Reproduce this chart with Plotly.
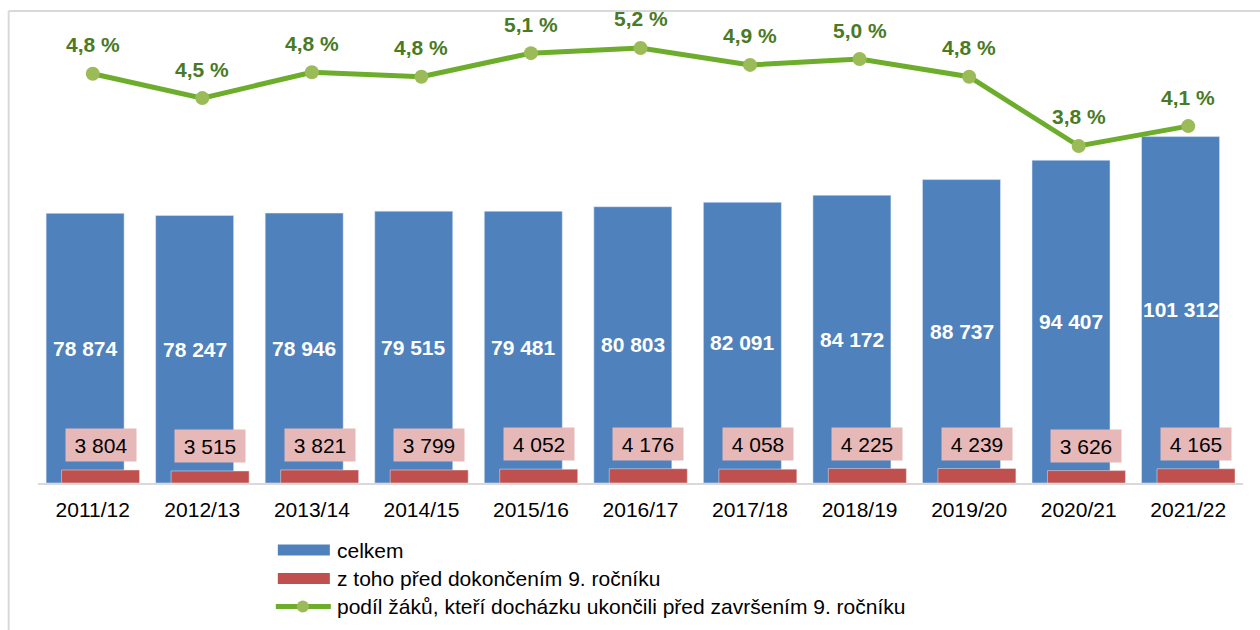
import plotly.graph_objects as go

categories = ["2011/12", "2012/13", "2013/14", "2014/15", "2015/16", "2016/17",
              "2017/18", "2018/19", "2019/20", "2020/21", "2021/22"]
celkem = [78874, 78247, 78946, 79515, 79481, 80803, 82091, 84172, 88737, 94407, 101312]
pred_dokoncenim = [3804, 3515, 3821, 3799, 4052, 4176, 4058, 4225, 4239, 3626, 4165]
podil = [4.82, 4.49, 4.84, 4.78, 5.10, 5.17, 4.94, 5.02, 4.78, 3.84, 4.11]

names = ["celkem", "z toho před dokončením 9. ročníku",
         "podíl žáků, kteří docházku ukončili před završením 9. ročníku"]

BLUE = "#4F81BD"
RED = "#C0504D"
PINK = "#E6B9B8"
LINE = "#6DAD2C"
MARK = "#9BBB59"
LABEL_GREEN = "#4A7A23"
FONT = "Liberation Sans, Arial, sans-serif"

W, H = 1260, 630
L, R, T, B = 38.3, 1242.7, 20, 483


def num(v):
    return f"{v:,}".replace(",", "\u00a0")


def px2paper(x, y):
    return (x - L) / (R - L), (B - y) / (B - T)


fig = go.Figure()
fig.add_trace(go.Bar(x=categories, y=celkem, name=names[0], marker_color=BLUE,
                     width=0.712, offset=-0.426, showlegend=False, hoverinfo="y"))
fig.add_trace(go.Bar(x=categories, y=pred_dokoncenim, name=names[1], marker_color=RED,
                     width=0.712, offset=-0.285, showlegend=False, hoverinfo="y"))
fig.add_trace(go.Scatter(x=categories, y=podil, name=names[2], yaxis="y2",
                         mode="lines+markers", line=dict(color=LINE, width=5),
                         marker=dict(color=MARK, size=14), showlegend=False))

ann = []
for c, v in zip(categories, celkem):
    ann.append(dict(x=c, y=v / 2, xref="x", yref="y", text=num(v), showarrow=False,
                    xshift=-7.6, font=dict(family=FONT, size=21, color="white", weight="bold")))
for c, v in zip(categories, pred_dokoncenim):
    ann.append(dict(x=c, y=v, xref="x", yref="y", text=num(v), showarrow=False,
                    xshift=7.8, yshift=8, yanchor="bottom", bgcolor=PINK,
                    width=70, height=32, borderpad=0,
                    font=dict(family=FONT, size=21, color="black")))
for c, v in zip(categories, podil):
    ann.append(dict(x=c, y=v, xref="x", yref="y2", text=f"{v:.1f}".replace(".", ",") + " %",
                    showarrow=False, yshift=29,
                    font=dict(family=FONT, size=21, color=LABEL_GREEN, weight="bold")))

shapes = []
# frame
x0, y0 = px2paper(9, 11)
x1, y1 = px2paper(1262, 632)
shapes.append(dict(type="line", xref="paper", yref="paper", x0=x0, y0=y0, x1=x1, y1=y0,
                   line=dict(color="#D9D9D9", width=2)))
shapes.append(dict(type="line", xref="paper", yref="paper", x0=x0, y0=y0, x1=x0, y1=y1,
                   line=dict(color="#D9D9D9", width=2)))

# manual legend
rows = [550, 578.5, 606.5]
for i, (color, yy) in enumerate(zip([BLUE, RED], rows[:2])):
    a, b = px2paper(278, yy - 5.5)
    c, d = px2paper(330, yy + 5.5)
    shapes.append(dict(type="rect", xref="paper", yref="paper", x0=a, y0=b, x1=c, y1=d,
                       fillcolor=color, line=dict(width=0)))
a, b = px2paper(276, rows[2])
c, _ = px2paper(331, rows[2])
shapes.append(dict(type="line", xref="paper", yref="paper", x0=a, y0=b, x1=c, y1=b,
                   line=dict(color=LINE, width=5)))
a, b = px2paper(297, rows[2] - 6)
c, d = px2paper(309, rows[2] + 6)
shapes.append(dict(type="circle", xref="paper", yref="paper", x0=a, y0=b, x1=c, y1=d,
                   fillcolor=MARK, line=dict(width=0)))
for name, yy in zip(names, rows):
    a, b = px2paper(335, yy)
    ann.append(dict(x=a, y=b, xref="paper", yref="paper", text=name, showarrow=False,
                    xanchor="left", yanchor="middle",
                    font=dict(family=FONT, size=21, color="black")))

y_top = (B - T) / 3.419 * 1000
y2_lo = (429 - B) / 73.7
y2_hi = (429 - T) / 73.7

fig.update_layout(
    width=W, height=H, autosize=False,
    margin=dict(l=L, r=W - R, t=T, b=H - B, pad=0),
    paper_bgcolor="white", plot_bgcolor="white",
    barmode="overlay",
    font=dict(family=FONT, size=21, color="black"),
    xaxis=dict(type="category", range=[-0.5, 10.5], showline=True, linecolor="#D9D9D9",
               linewidth=2, ticks="", showgrid=False, zeroline=False, ticklabelstandoff=7,
               tickfont=dict(family=FONT, size=21, color="black")),
    yaxis=dict(range=[0, y_top], visible=False, showgrid=False, zeroline=False),
    yaxis2=dict(range=[y2_lo, y2_hi], overlaying="y", side="right", visible=False,
                showgrid=False, zeroline=False),
    annotations=ann, shapes=shapes,
)

fig.write_html("out.html", config={"displayModeBar": False},
               post_script="document.body.style.margin='0px';")
